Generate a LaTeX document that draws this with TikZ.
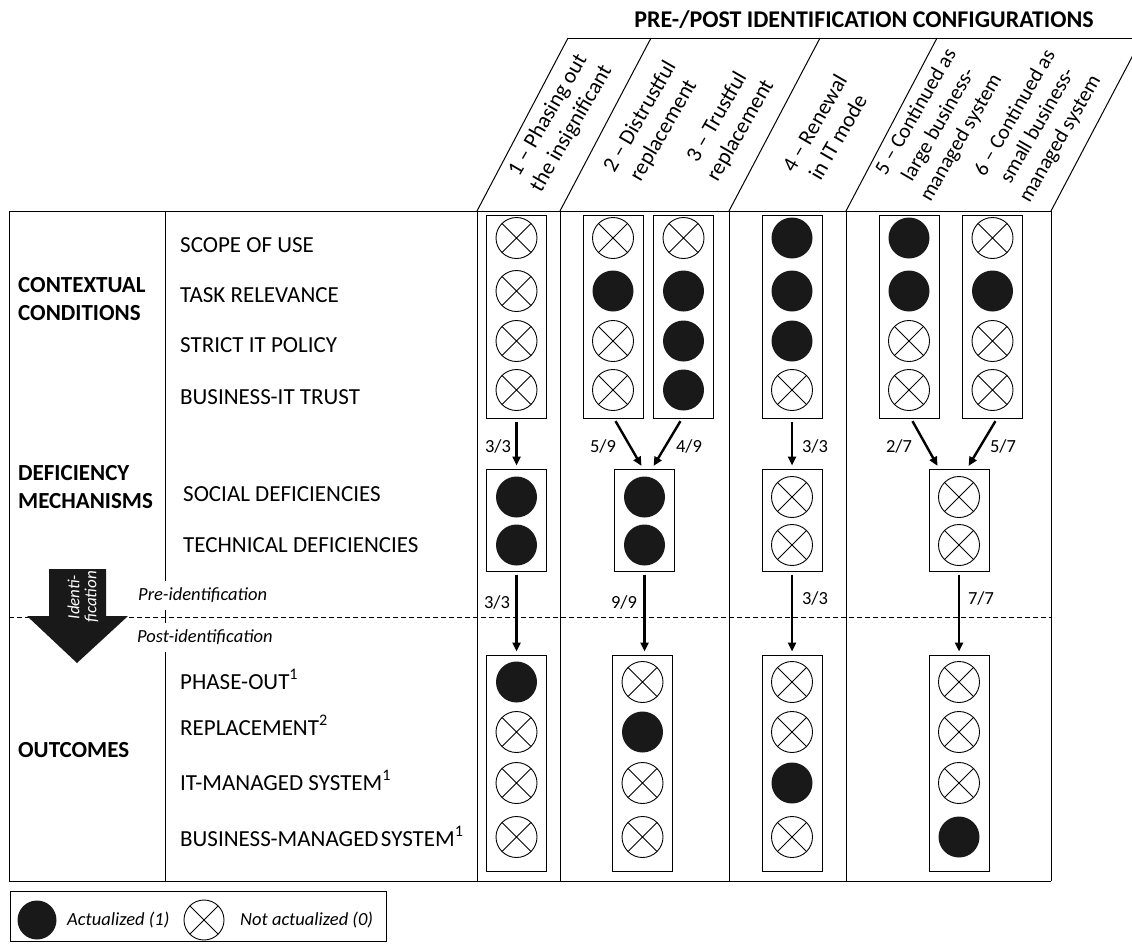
\documentclass[tikz,border=0pt]{standalone}
\usepackage{fontspec}
\setmainfont{Carlito}
\usetikzlibrary{arrows.meta}

\begin{document}
\begin{tikzpicture}[x=1pt,y=-1pt,
		every node/.style={inner sep=0pt},
		act/.style={circle,fill=black!90,minimum size=41pt},
		nact/.style={circle,draw,line width=0.9pt,minimum size=41pt,
			path picture={\draw[line width=0.9pt] (path picture bounding box.north west) -- (path picture bounding box.south east)
				(path picture bounding box.north east) -- (path picture bounding box.south west);}},
		box/.style={draw,line width=1pt,minimum width=60pt},
		flow/.style={line width=2.4pt,-{Triangle[length=9pt,width=8pt]},shorten <=3pt,shorten >=3pt},
		lbl/.style={anchor=base west,font=\fontsize{23}{28}\selectfont},
		grp/.style={anchor=base west,align=left,font=\bfseries\fontsize{23}{28}\selectfont},
		hdr/.style={rotate=60,align=center,font=\fontsize{22}{27}\selectfont},
		hdrs/.style={hdr,font=\fontsize{21}{26}\selectfont},
		frac/.style={font=\fontsize{18.5}{20}\selectfont},
		note/.style={font=\itshape\fontsize{18.5}{20}\selectfont}]
		\clip (0,0) rectangle (1132,946);
		% table frame and columns
		\draw[line width=1pt] (9,211) -- (1051,211) (9,881) -- (1051,881);
		\draw[line width=1pt] (9,211) -- (9,881) (165,211) -- (165,881);
		\draw[line width=1pt] (477,211) -- (477,881) (560,211) -- (560,881) (729,211) -- (729,881) (846,211) -- (846,881) (1051,211) -- (1051,881);
		\draw[line width=1pt] (568,38) -- (1142,38);
		\draw[line width=1pt] (477,211) -- (568,38) (560,211) -- (651,38) (729,211) -- (820,38) (846,211) -- (937,38) (1051,211) -- (1142,38);
		\draw[line width=1pt,dash pattern=on 5pt off 3pt] (9,617) -- (1051,617);
		% identification arrow
		\fill[black!90] (49,569) -- (106,569) -- (106,616) -- (128,616) -- (77,663) -- (27,616) -- (49,616) -- cycle;
		\node[white,rotate=90,align=center,font=\itshape\fontsize{17}{17}\selectfont] (ident) at (83,597) {Identi-\\fication};
		\node[note,anchor=west,fill=white,inner xsep=2pt,inner ysep=7pt] (pre) at (136,595) {Pre-identification};
		\node[note,anchor=west,fill=white,inner xsep=2pt,inner ysep=7pt] (post) at (135,637) {Post-identification};
		% titles
		\node[anchor=base,font=\bfseries\fontsize{24}{26}\selectfont] (title) at (864,27) {PRE-/POST IDENTIFICATION CONFIGURATIONS};
		\node[hdr] (h1) at (560,122) {1 – Phasing out\\the insignificant};
		\node[hdr] (h2) at (652,124) {2 – Distrustful\\replacement};
		\node[hdr] (h3) at (729,124) {3 – Trustful\\replacement};
		\node[hdr] (h4) at (826,130) {4 – Renewal\\in IT mode};
		\node[hdrs] (h5) at (939,125) {5 – Continued as\\large business-\\managed system};
		\node[hdrs] (h6) at (1038,126) {6 – Continued as\\small business-\\managed system};
		% row labels
		\node[grp] (gctx) at (18,320) {CONTEXTUAL\\CONDITIONS};
		\node[grp] (gdef) at (18,508) {DEFICIENCY\\MECHANISMS};
		\node[grp] (gout) at (18,757) {OUTCOMES};
		\node[lbl] (scope) at (180,252) {SCOPE OF USE};
		\node[lbl] (task) at (180,302) {TASK RELEVANCE};
		\node[lbl] (policy) at (180,352) {STRICT IT POLICY};
		\node[lbl] (trust) at (180,404) {BUSINESS-IT TRUST};
		\node[lbl] (social) at (183,501) {SOCIAL DEFICIENCIES};
		\node[lbl] (techn) at (183,552) {TECHNICAL DEFICIENCIES};
		\node[lbl] (phase) at (180,689) {PHASE-OUT\textsuperscript{1}};
		\node[lbl] (repl) at (180,735) {REPLACEMENT\textsuperscript{2}};
		\node[lbl] (itman) at (180,790) {IT-MANAGED SYSTEM\textsuperscript{1}};
		\node[lbl] (busman) at (180,846) {BUSINESS-MANAGED\hspace{0.1em}SYSTEM\textsuperscript{1}};
		% contextual conditions
		\node[box,minimum height=203pt] (k1) at (516.5,316.5) {};
		\node[nact] (k1a) at (516.5,238) {};
		\node[nact] (k1b) at (516.5,291) {};
		\node[nact] (k1c) at (516.5,341) {};
		\node[nact] (k1d) at (516.5,390) {};
		\node[box,minimum height=203pt] (k2) at (613,316.5) {};
		\node[nact] (k2a) at (613,238) {};
		\node[act] (k2b) at (613,291) {};
		\node[nact] (k2c) at (613,341) {};
		\node[nact] (k2d) at (613,390) {};
		\node[box,minimum height=203pt] (k3) at (683.5,316.5) {};
		\node[nact] (k3a) at (683.5,238) {};
		\node[act] (k3b) at (683.5,291) {};
		\node[act] (k3c) at (683.5,341) {};
		\node[act] (k3d) at (683.5,390) {};
		\node[box,minimum height=203pt] (k4) at (792,316.5) {};
		\node[act] (k4a) at (792,238) {};
		\node[act] (k4b) at (792,291) {};
		\node[act] (k4c) at (792,341) {};
		\node[nact] (k4d) at (792,390) {};
		\node[box,minimum height=203pt] (k5) at (909,316.5) {};
		\node[act] (k5a) at (909,238) {};
		\node[act] (k5b) at (909,291) {};
		\node[nact] (k5c) at (909,341) {};
		\node[nact] (k5d) at (909,390) {};
		\node[box,minimum height=203pt] (k6) at (992.5,316.5) {};
		\node[nact] (k6a) at (992.5,238) {};
		\node[act] (k6b) at (992.5,291) {};
		\node[nact] (k6c) at (992.5,341) {};
		\node[nact] (k6d) at (992.5,390) {};
		% deficiency mechanisms
		\node[box,minimum height=102pt] (d1) at (516.5,520) {};
		\node[act] (d1a) at (516.5,497) {};
		\node[act] (d1b) at (516.5,545) {};
		\node[box,minimum height=102pt] (d2) at (644.5,520) {};
		\node[act] (d2a) at (644.5,497) {};
		\node[act] (d2b) at (644.5,545) {};
		\node[box,minimum height=102pt] (d4) at (792,520) {};
		\node[nact] (d4a) at (792,497) {};
		\node[nact] (d4b) at (792,545) {};
		\node[box,minimum height=102pt] (d5) at (959,520) {};
		\node[nact] (d5a) at (959,497) {};
		\node[nact] (d5b) at (959,545) {};
		% outcomes
		\node[box,minimum height=216pt] (o1) at (516.5,763) {};
		\node[act] (o1a) at (516.5,682) {};
		\node[nact] (o1b) at (516.5,732) {};
		\node[nact] (o1c) at (516.5,783) {};
		\node[nact] (o1d) at (516.5,837) {};
		\node[box,minimum height=216pt] (o2) at (642.5,763) {};
		\node[nact] (o2a) at (642.5,682) {};
		\node[act] (o2b) at (642.5,732) {};
		\node[nact] (o2c) at (642.5,783) {};
		\node[nact] (o2d) at (642.5,837) {};
		\node[box,minimum height=216pt] (o4) at (792,763) {};
		\node[nact] (o4a) at (792,682) {};
		\node[nact] (o4b) at (792,732) {};
		\node[act] (o4c) at (792,783) {};
		\node[nact] (o4d) at (792,837) {};
		\node[box,minimum height=216pt] (o5) at (959,763) {};
		\node[nact] (o5a) at (959,682) {};
		\node[nact] (o5b) at (959,732) {};
		\node[nact] (o5c) at (959,783) {};
		\node[act] (o5d) at (959,837) {};
		% transitions
		\draw[flow] (k1.south) -- (d1.north);
		\draw[flow] ([xshift=1pt]k2.south) -- ([xshift=-1.5pt]d2.north);
		\draw[flow] ([xshift=-1.5pt]k3.south) -- ([xshift=7.5pt]d2.north);
		\draw[flow] (k4.south) -- (d4.north);
		\draw[flow] ([xshift=2pt]k5.south) -- ([xshift=-20pt]d5.north);
		\draw[flow] ([xshift=4.5pt]k6.south) -- ([xshift=8pt]d5.north);
		\draw[flow] (d1.south) -- (o1.north);
		\draw[flow] (d2.south) -- (d2.south |- o2.north);
		\draw[flow] (d4.south) -- (o4.north);
		\draw[flow] (d5.south) -- (o5.north);
		\node[frac] (f1) at (498,446) {3/3};
		\node[frac] (f2) at (603,446) {5/9};
		\node[frac] (f3) at (689,446) {4/9};
		\node[frac] (f4) at (815,446) {3/3};
		\node[frac] (f5) at (899,446) {2/7};
		\node[frac] (f6) at (1003,446) {5/7};
		\node[frac] (f7) at (497,602) {3/3};
		\node[frac] (f8) at (624,602) {9/9};
		\node[frac] (f9) at (815,598) {3/3};
		\node[frac] (f10) at (981,598) {7/7};
		% legend
		\node[draw,line width=1pt,minimum width=376pt,minimum height=50pt] (legend) at (198,916) {};
		\node[act,minimum size=39pt] (lga) at (37,920) {};
		\node[note,anchor=west] (lgat) at (67,920) {Actualized (1)};
		\node[nact,minimum size=40pt] (lgn) at (204,920) {};
		\node[note,anchor=west] (lgnt) at (240,920) {Not actualized (0)};
	\end{tikzpicture}
\end{document}
